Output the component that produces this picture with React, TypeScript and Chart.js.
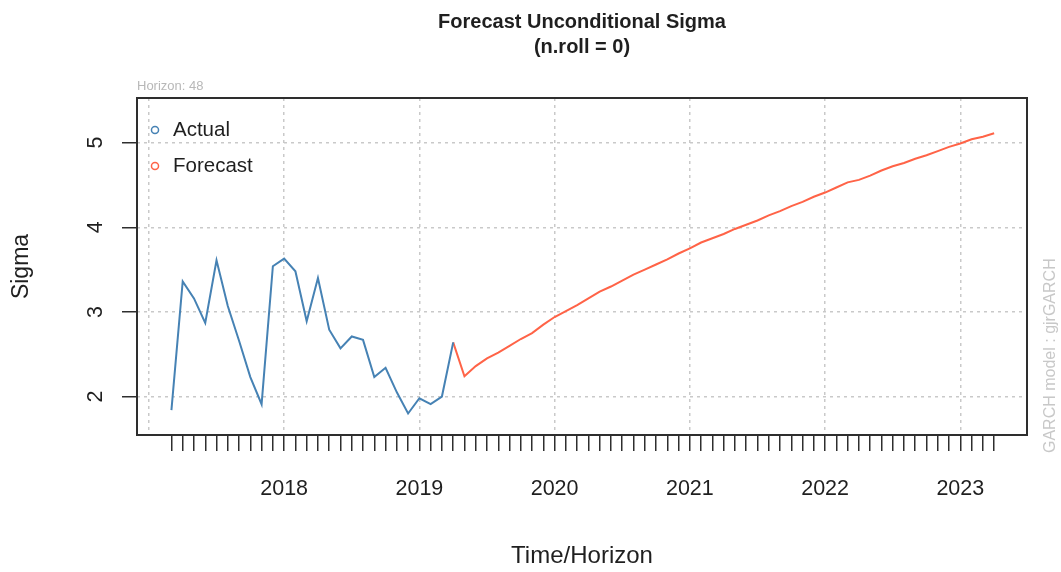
import React, { useEffect, useRef } from 'react';
import { Chart, registerables } from 'chart.js';

Chart.register(...registerables);

// ---- data (monthly, first actual point = 2017-03) ----
const START_YEAR = 2017;
const START_MONTH = 3;

const actualSigma = [
  1.84, 3.36, 3.16, 2.87, 3.61, 3.07, 2.66, 2.23, 1.91, 3.54,
  3.63, 3.48, 2.89, 3.40, 2.79, 2.57, 2.71, 2.67, 2.23, 2.34,
  2.05, 1.80, 1.98, 1.91, 2.00, 2.64,
];

const forecastSigma = [
  2.24, 2.36, 2.45, 2.52, 2.60, 2.68, 2.75, 2.85, 2.94, 3.01,
  3.08, 3.16, 3.24, 3.30, 3.37, 3.44, 3.50, 3.56, 3.62, 3.69,
  3.75, 3.82, 3.87, 3.92, 3.98, 4.03, 4.08, 4.14, 4.19, 4.25,
  4.30, 4.36, 4.41, 4.47, 4.53, 4.56, 4.61, 4.67, 4.72, 4.76,
  4.81, 4.85, 4.90, 4.95, 4.99, 5.04, 5.07, 5.11,
];

const seriesNames = ['Actual', 'Forecast'];
const seriesColors = ['#4682B4', '#FF6347'];
const yearLabels = [2018, 2019, 2020, 2021, 2022, 2023];
const gridYears = [2017, 2018, 2019, 2020, 2021, 2022, 2023];
const sigmaTicks = [2, 3, 4, 5];
const chartTitle = ['Forecast Unconditional Sigma', '(n.roll = 0)'];
const horizonLabel = 'Horizon: 48';
const modelLabel = 'GARCH model : gjrGARCH';
const xTitle = 'Time/Horizon';
const yTitle = 'Sigma';

const X_MIN = 2016.912;
const X_MAX = 2023.493;
const Y_MIN = 1.546;
const Y_MAX = 5.527;

// ---- styles ----
const FONT = "'Liberation Sans', Arial, sans-serif";
const TEXT = '#1f1f1f';
const AXIS = '#2e2e2e';
const GRID = '#c9c9c9';
const NONE = 'rgba(0,0,0,0)';
const PLOT_TOP = 98;

const tAt = (i: number) => START_YEAR + (START_MONTH - 1 + i) / 12;
const monthOffset = (v: number) => Math.round((v - START_YEAR) * 12);

const actualPoints = actualSigma.map((y, i) => ({ x: tAt(i), y }));
const forecastPoints = [
  actualPoints[actualPoints.length - 1],
  ...forecastSigma.map((y, j) => ({ x: tAt(actualSigma.length + j), y })),
];

const lastIndex = actualSigma.length + forecastSigma.length - 1;
const monthTickValues: number[] = [];
for (let k = (gridYears[0] - START_YEAR) * 12 - (START_MONTH - 1); k <= lastIndex; k++) {
  monthTickValues.push(tAt(k));
}

const boxPlugin = {
  id: 'rBox',
  afterDraw(chart: any) {
    const { ctx, chartArea: a } = chart;
    ctx.save();
    ctx.strokeStyle = AXIS;
    ctx.lineWidth = 2;
    ctx.strokeRect(a.left, a.top, a.right - a.left, a.bottom - a.top);
    ctx.restore();
  },
};

const modelLabelPlugin = {
  id: 'modelLabel',
  afterDraw(chart: any) {
    const { ctx, chartArea: a } = chart;
    ctx.save();
    ctx.translate(a.right + 24, a.bottom + 18);
    ctx.rotate(-Math.PI / 2);
    ctx.fillStyle = '#c8c8c8';
    ctx.font = `16px ${FONT}`;
    ctx.textAlign = 'left';
    ctx.textBaseline = 'middle';
    ctx.fillText(modelLabel, 0, 0);
    ctx.restore();
  },
};

export default function App() {
  const canvasRef = useRef<HTMLCanvasElement | null>(null);

  useEffect(() => {
    if (!canvasRef.current) return;
    const chart = new Chart(canvasRef.current, {
      type: 'line',
      data: {
        datasets: [
          {
            label: seriesNames[0],
            data: actualPoints,
            borderColor: seriesColors[0],
            backgroundColor: NONE,
            borderWidth: 2,
            pointRadius: 0,
            pointHoverRadius: 0,
            pointBorderWidth: 1.5,
            pointStyle: 'circle',
            tension: 0,
          },
          {
            label: seriesNames[1],
            data: forecastPoints,
            borderColor: seriesColors[1],
            backgroundColor: NONE,
            borderWidth: 2,
            pointRadius: 0,
            pointHoverRadius: 0,
            pointBorderWidth: 1.5,
            pointStyle: 'circle',
            tension: 0,
          },
        ],
      },
      options: {
        animation: false,
        responsive: false,
        events: [],
        layout: { padding: { left: 0, right: 34, top: 0, bottom: 0 } },
        scales: {
          x: {
            type: 'linear',
            min: X_MIN,
            max: X_MAX,
            afterBuildTicks: (s: any) => {
              s.ticks = monthTickValues.map((value) => ({ value }));
            },
            afterFit: (s: any) => {
              s.height = 137;
            },
            ticks: {
              autoSkip: false,
              maxRotation: 0,
              minRotation: 0,
              padding: 25,
              color: TEXT,
              font: { family: FONT, size: 21.5 },
              callback: (value: any) => {
                const off = monthOffset(Number(value));
                if (off % 12 !== 0) return '';
                const yr = START_YEAR + off / 12;
                return yearLabels.includes(yr) ? String(yr) : '';
              },
            },
            grid: {
              color: (c: any) => {
                if (!c.tick) return NONE;
                const off = monthOffset(c.tick.value);
                return off % 12 === 0 && gridYears.includes(START_YEAR + off / 12) ? GRID : NONE;
              },
              lineWidth: 1.5,
              tickLength: 16,
              tickWidth: 1.5,
              tickColor: (c: any) =>
                c.tick && monthOffset(c.tick.value) >= START_MONTH - 1 ? AXIS : NONE,
              tickBorderDash: [],
            },
            border: { display: false, dash: [3, 4] },
            title: {
              display: true,
              text: xTitle,
              color: TEXT,
              font: { family: FONT, size: 24, lineHeight: 1 },
              padding: { top: 0, bottom: 4 },
            },
          },
          y: {
            type: 'linear',
            min: Y_MIN,
            max: Y_MAX,
            afterBuildTicks: (s: any) => {
              s.ticks = sigmaTicks.map((value) => ({ value }));
            },
            afterFit: (s: any) => {
              s.width = 137;
            },
            ticks: {
              color: TEXT,
              font: { family: FONT, size: 21.5 },
              padding: 20,
              minRotation: 90,
              maxRotation: 90,
              crossAlign: 'center',
              callback: (v: any) => String(v),
            },
            grid: {
              color: GRID,
              lineWidth: 1.5,
              tickLength: 15,
              tickWidth: 1.5,
              tickColor: AXIS,
              tickBorderDash: [],
            },
            border: { display: false, dash: [3, 4] },
            title: {
              display: true,
              text: yTitle,
              color: TEXT,
              font: { family: FONT, size: 23, lineHeight: 1 },
              padding: { top: 10.5, bottom: 0 },
            },
          },
        },
        plugins: {
          tooltip: { enabled: false },
          title: {
            display: true,
            text: chartTitle,
            fullSize: false,
            color: TEXT,
            font: { family: FONT, size: 20, weight: 'bold', lineHeight: '25px' },
            padding: { top: 9.5, bottom: 20 },
          },
          subtitle: {
            display: true,
            text: horizonLabel,
            fullSize: false,
            align: 'start',
            color: '#b8b8b8',
            font: { family: FONT, size: 13, lineHeight: 1 },
            padding: { top: 0, bottom: 5.5 },
          },
          legend: {
            position: 'chartArea',
            align: 'start',
            title: {
              display: true,
              text: '',
              padding: 0,
              font: { size: PLOT_TOP + 11.5, lineHeight: 1 },
            },
            labels: {
              usePointStyle: true,
              boxWidth: 15.5,
              boxHeight: 5,
              padding: 10.25,
              color: TEXT,
              font: { family: FONT, size: 20.5, lineHeight: '25.75px' },
              generateLabels: (ch: any) =>
                (Chart.defaults.plugins.legend.labels as any)
                  .generateLabels(ch)
                  .map((item: any) => ({ ...item, text: [item.text] })),
            },
          },
        },
      } as any,
      plugins: [boxPlugin, modelLabelPlugin],
    });
    return () => chart.destroy();
  }, []);

  return (
    <div style={{ position: 'fixed', left: 0, top: 0, width: 1061, height: 572, background: '#fff' }}>
      <canvas ref={canvasRef} width={1061} height={572} style={{ display: 'block' }} />
    </div>
  );
}
